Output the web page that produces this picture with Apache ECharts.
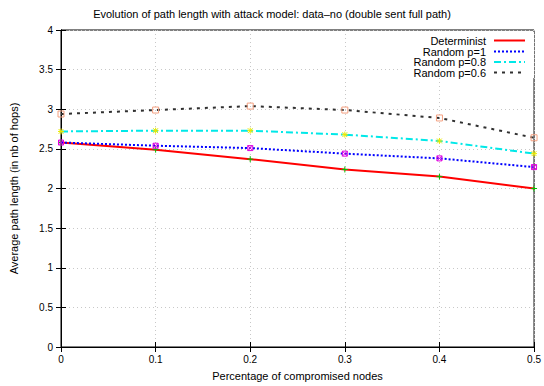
<!DOCTYPE html>
<html>
<head>
<meta charset="utf-8">
<script src="https://cdn.jsdelivr.net/npm/echarts@6/dist/echarts.min.js"></script>
<style>html,body{margin:0;padding:0;background:#fff}#c{width:544px;height:386px}</style>
</head>
<body>
<div id="c"></div>
<script>
const xValues = [0, 0.1, 0.2, 0.3, 0.4, 0.5];
const determinist = [2.58, 2.49, 2.37, 2.24, 2.15, 2.0];
const randomP1 = [2.58, 2.54, 2.51, 2.44, 2.38, 2.27];
const randomP08 = [2.72, 2.73, 2.73, 2.68, 2.60, 2.44];
const randomP06 = [2.94, 2.99, 3.04, 2.99, 2.89, 2.64];
const seriesNames = ['Determinist', 'Random p=1', 'Random p=0.8', 'Random p=0.6'];

const FONT = 'Liberation Sans';
const chart = echarts.init(document.getElementById('c'), null, {renderer: 'svg'});

function pts(arr) { return xValues.map((x, i) => [x, arr[i]]); }

const styles = [
  {line: '#ff0000', dash: 'solid', mark: '#00c000', sym: 'path://M5,0L5,10M0,5L10,5', size: 6},
  {line: '#0000ff', dash: [2, 2], mark: '#e000e0', sym: 'path://M0,0L10,10M0,10L10,0M0,0L10,0L10,10L0,10Z', size: 5},
  {line: '#00e8e8', dash: [7, 3, 2, 3], mark: '#e8e800', sym: 'path://M5,0L5,10M0,5L10,5M1,1L9,9M1,9L9,1', size: 6},
  {line: '#303030', dash: [3, 5], mark: '#f4a080', sym: 'path://M0,0L10,0L10,10L0,10Z', size: 6}
];
const data = [determinist, randomP1, randomP08, randomP06];

const series = data.map((d, i) => ({
  name: seriesNames[i],
  type: 'line',
  data: pts(d),
  symbol: styles[i].sym,
  symbolSize: styles[i].size,
  showSymbol: true,
  lineStyle: {color: styles[i].line, width: 2, type: styles[i].dash},
  itemStyle: {color: 'none', borderColor: styles[i].mark, borderWidth: 1},
  emphasis: {disabled: true},
  animation: false,
  z: 3 + i
}));

const legendGraphics = [];
legendGraphics.push({type: 'rect', shape: {x: 404, y: 32, width: 130, height: 46}, style: {fill: '#fff'}, z: 2});
const ly = [40.5, 51.5, 62, 72.5];
seriesNames.forEach((n, i) => {
  legendGraphics.push({type: 'text', x: 486, y: ly[i], style: {text: n, font: '11px ' + FONT, fill: '#000', align: 'right', verticalAlign: 'middle'}, z: 10});
  legendGraphics.push({type: 'line', shape: {x1: 494, y1: ly[i], x2: 525, y2: ly[i]}, style: {stroke: styles[i].line, lineWidth: 2, lineDash: styles[i].dash === 'solid' ? null : styles[i].dash}, z: 10});
});

const axisLabel = {color: '#000', fontFamily: FONT, fontSize: 10};
chart.setOption({
  backgroundColor: '#fff',
  animation: false,
  title: {text: 'Evolution of path length with attack model: data\u2013no (double sent full path)', left: 'center', top: 3,
    textStyle: {fontFamily: FONT, fontSize: 11, fontWeight: 'normal', color: '#000'}},
  grid: {left: 59, right: 8, top: 30, bottom: 34, show: true, borderColor: '#000', borderWidth: 1, containLabel: false},
  xAxis: [{
    type: 'value', min: 0, max: 0.5, interval: 0.1,
    name: 'Percentage of compromised nodes', nameLocation: 'middle', nameGap: 23,
    nameTextStyle: {fontFamily: FONT, fontSize: 11, color: '#000'},
    axisLine: {show: true, lineStyle: {color: '#000'}},
    axisTick: {show: true, inside: true, length: 5, lineStyle: {color: '#000'}},
    axisLabel: Object.assign({margin: 7, formatter: v => String(+v.toFixed(1))}, axisLabel),
    splitLine: {show: true, lineStyle: {color: '#c8c8c8', type: [1, 3]}}
  }, {
    type: 'value', min: 0, max: 0.5, interval: 0.1, position: 'top',
    axisLine: {show: true, lineStyle: {color: '#000'}},
    axisTick: {show: true, inside: true, length: 5, lineStyle: {color: '#000'}},
    axisLabel: {show: false}, splitLine: {show: false}
  }],
  yAxis: [{
    type: 'value', min: 0, max: 4, interval: 0.5,
    name: 'Average path length (in nb of hops)', nameLocation: 'middle', nameGap: 42, nameRotate: 90,
    nameTextStyle: {fontFamily: FONT, fontSize: 11, color: '#000'},
    axisLine: {show: true, lineStyle: {color: '#000'}},
    axisTick: {show: true, inside: true, length: 5, lineStyle: {color: '#000'}},
    axisLabel: Object.assign({margin: 8}, axisLabel),
    splitLine: {show: true, lineStyle: {color: '#c8c8c8', type: [1, 3]}}
  }, {
    type: 'value', min: 0, max: 4, interval: 0.5, position: 'right',
    axisLine: {show: true, lineStyle: {color: '#000'}},
    axisTick: {show: true, inside: true, length: 5, lineStyle: {color: '#000'}},
    axisLabel: {show: false}, splitLine: {show: false}
  }],
  series: series,
  graphic: legendGraphics
});
</script>
</body>
</html>
